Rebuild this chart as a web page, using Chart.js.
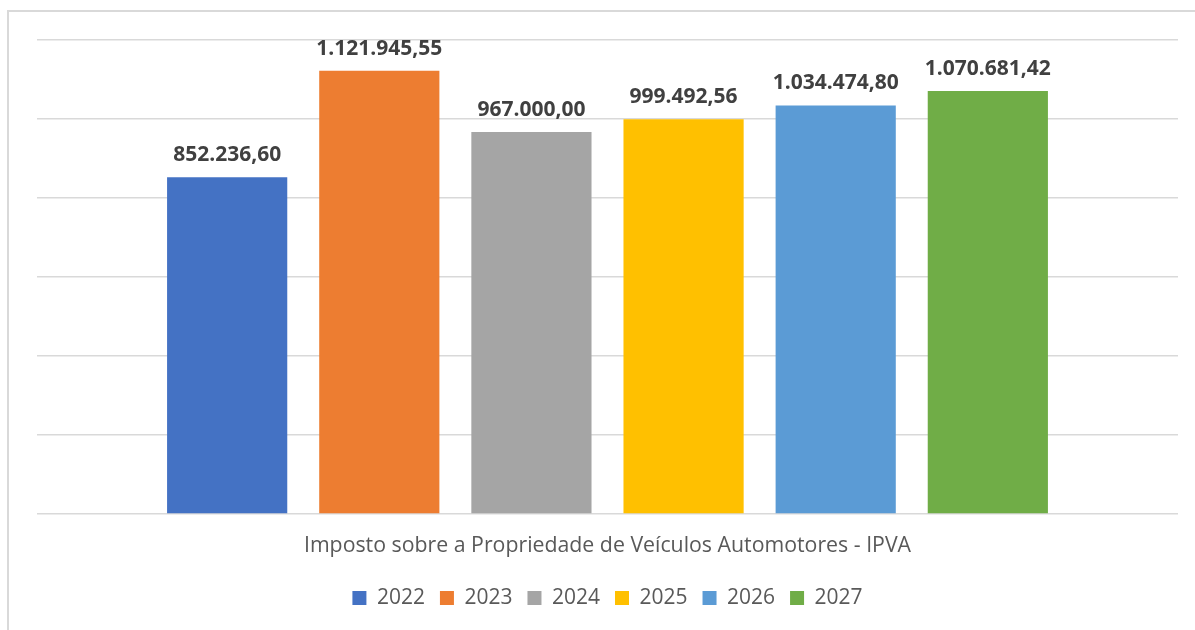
<!DOCTYPE html>
<html>
<head>
<meta charset="utf-8">
<script src="https://cdn.jsdelivr.net/npm/chart.js@4.4.1/dist/chart.umd.min.js"></script>
<style>
  html, body { margin: 0; padding: 0; background: #fff; }
  #wrap { position: absolute; left: 0; top: 0; width: 1195px; height: 630px; overflow: hidden; }
  #frame { position: absolute; left: 7px; top: 10px; width: 1200px; height: 640px;
           border-left: 2px solid #d9d9d9; border-top: 2px solid #d9d9d9; }
  canvas { position: absolute; left: 0; top: 0; }
</style>
</head>
<body>
<div id="wrap">
  <div id="frame"></div>
  <canvas id="ipvaChart" width="1195" height="630"></canvas>
</div>
<script>
// chart data
const categories = ["Imposto sobre a Propriedade de Veículos Automotores - IPVA"];
const years = ["2022", "2023", "2024", "2025", "2026", "2027"];
const values = [852236.60, 1121945.55, 967000.00, 999492.56, 1034474.80, 1070681.42];
const colors = ["#4472C4", "#ED7D31", "#A5A5A5", "#FFC000", "#5B9BD5", "#70AD47"];
const yTicks = [0, 200000, 400000, 600000, 800000, 1000000, 1200000];

// format like 1.121.945,55
function formatBR(v) {
    const parts = v.toFixed(2).split(".");
    const intPart = parts[0].replace(/\B(?=(\d{3})+(?!\d))/g, ".");
    return intPart + "," + parts[1];
}

// draws the value above each bar
const valueLabels = {
    id: "valueLabels",
    afterDatasetsDraw(chart) {
        const ctx = chart.ctx;
        ctx.save();
        ctx.font = "bold 21px 'Open Sans'";
        ctx.fillStyle = "#404040";
        ctx.textAlign = "center";
        ctx.textBaseline = "alphabetic";
        chart.data.datasets.forEach((ds, i) => {
            const bar = chart.getDatasetMeta(i).data[0];
            ctx.fillText(formatBR(ds.data[0]), bar.x, bar.y - 16);
        });
        ctx.restore();
    }
};

const ctx = document.getElementById("ipvaChart").getContext("2d");

new Chart(ctx, {
    type: "bar",
    data: {
        labels: categories,
        datasets: years.map((year, i) => ({
            label: year,
            data: [values[i]],
            backgroundColor: colors[i],
            borderWidth: 0,
            categoryPercentage: 0.8,
            barPercentage: 0.79,
        })),
    },
    options: {
        responsive: false,
        animation: false,
        layout: {
            padding: { left: 37, right: 17, top: 40, bottom: 11.5 },
        },
        scales: {
            x: {
                grid: { display: false, drawTicks: false },
                border: { display: false },
                ticks: {
                    color: "#595959",
                    font: { family: "'Open Sans'", size: 21.3 },
                    padding: 19,
                },
                afterFit(axis) {
                    axis.height = 58.5;
                },
            },
            y: {
                min: 0,
                max: 1200000,
                afterBuildTicks(axis) {
                    axis.ticks = yTicks.map(v => ({ value: v }));
                },
                grid: { color: "#d9d9d9", lineWidth: 1.5, drawTicks: false },
                border: { display: false },
                ticks: { display: false },
            },
        },
        plugins: {
            legend: {
                position: "bottom",
                labels: {
                    color: "#595959",
                    font: { family: "'Open Sans'", size: 21 },
                    boxWidth: 14,
                    boxHeight: 14,
                    padding: 15,
                },
            },
            tooltip: { enabled: false },
        },
    },
    plugins: [valueLabels],
});
</script>
</body>
</html>
